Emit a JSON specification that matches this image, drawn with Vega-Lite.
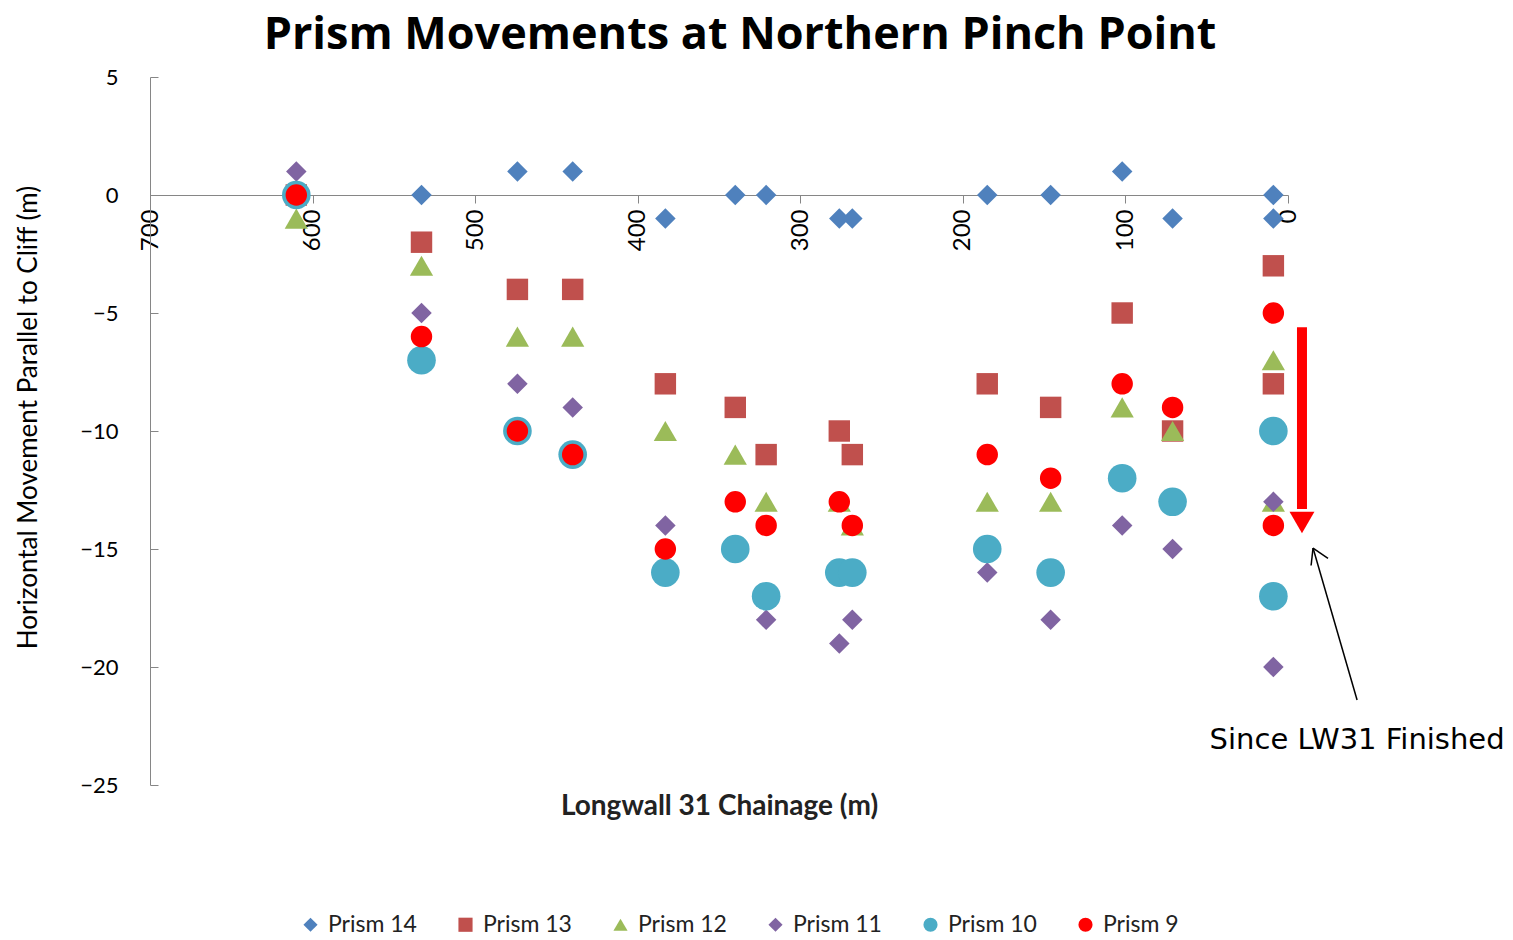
{
  "$schema": "https://vega.github.io/schema/vega-lite/v6.json",
  "autosize": {"type": "none"},
  "padding": {"left": 150, "top": 77, "right": 225, "bottom": 155},
  "width": 1138,
  "height": 708,
  "background": "white",
  "title": {
    "text": "Prism Movements at Northern Pinch Point",
    "font": "Open Sans",
    "fontSize": 45,
    "fontWeight": "bold",
    "color": "#000000",
    "anchor": "middle",
    "offset": 8,
    "dx": 21
  },
  "config": {
    "view": {"stroke": null},
    "font": "Lato",
    "legend": {"symbolSize": 200}
  },
  "layer": [
    {
      "data": {
        "values": [
          {"prism": "Prism 14", "chainage": 610, "movement": 0},
          {"prism": "Prism 14", "chainage": 533, "movement": 0},
          {"prism": "Prism 14", "chainage": 474, "movement": 1},
          {"prism": "Prism 14", "chainage": 440, "movement": 1},
          {"prism": "Prism 14", "chainage": 383, "movement": -1},
          {"prism": "Prism 14", "chainage": 340, "movement": 0},
          {"prism": "Prism 14", "chainage": 321, "movement": 0},
          {"prism": "Prism 14", "chainage": 276, "movement": -1},
          {"prism": "Prism 14", "chainage": 268, "movement": -1},
          {"prism": "Prism 14", "chainage": 185, "movement": 0},
          {"prism": "Prism 14", "chainage": 146, "movement": 0},
          {"prism": "Prism 14", "chainage": 102, "movement": 1},
          {"prism": "Prism 14", "chainage": 71, "movement": -1},
          {"prism": "Prism 14", "chainage": 9, "movement": 0},
          {"prism": "Prism 14", "chainage": 9, "movement": -1},
          {"prism": "Prism 13", "chainage": 610, "movement": 0},
          {"prism": "Prism 13", "chainage": 533, "movement": -2},
          {"prism": "Prism 13", "chainage": 474, "movement": -4},
          {"prism": "Prism 13", "chainage": 440, "movement": -4},
          {"prism": "Prism 13", "chainage": 383, "movement": -8},
          {"prism": "Prism 13", "chainage": 340, "movement": -9},
          {"prism": "Prism 13", "chainage": 321, "movement": -11},
          {"prism": "Prism 13", "chainage": 276, "movement": -10},
          {"prism": "Prism 13", "chainage": 268, "movement": -11},
          {"prism": "Prism 13", "chainage": 185, "movement": -8},
          {"prism": "Prism 13", "chainage": 146, "movement": -9},
          {"prism": "Prism 13", "chainage": 102, "movement": -5},
          {"prism": "Prism 13", "chainage": 71, "movement": -10},
          {"prism": "Prism 13", "chainage": 9, "movement": -3},
          {"prism": "Prism 13", "chainage": 9, "movement": -8},
          {"prism": "Prism 12", "chainage": 610, "movement": -1},
          {"prism": "Prism 12", "chainage": 533, "movement": -3},
          {"prism": "Prism 12", "chainage": 474, "movement": -6},
          {"prism": "Prism 12", "chainage": 440, "movement": -6},
          {"prism": "Prism 12", "chainage": 383, "movement": -10},
          {"prism": "Prism 12", "chainage": 340, "movement": -11},
          {"prism": "Prism 12", "chainage": 321, "movement": -13},
          {"prism": "Prism 12", "chainage": 276, "movement": -13},
          {"prism": "Prism 12", "chainage": 268, "movement": -14},
          {"prism": "Prism 12", "chainage": 185, "movement": -13},
          {"prism": "Prism 12", "chainage": 146, "movement": -13},
          {"prism": "Prism 12", "chainage": 102, "movement": -9},
          {"prism": "Prism 12", "chainage": 71, "movement": -10},
          {"prism": "Prism 12", "chainage": 9, "movement": -7},
          {"prism": "Prism 12", "chainage": 9, "movement": -13},
          {"prism": "Prism 11", "chainage": 610, "movement": 1},
          {"prism": "Prism 11", "chainage": 533, "movement": -5},
          {"prism": "Prism 11", "chainage": 474, "movement": -8},
          {"prism": "Prism 11", "chainage": 440, "movement": -9},
          {"prism": "Prism 11", "chainage": 383, "movement": -14},
          {"prism": "Prism 11", "chainage": 321, "movement": -18},
          {"prism": "Prism 11", "chainage": 276, "movement": -19},
          {"prism": "Prism 11", "chainage": 268, "movement": -18},
          {"prism": "Prism 11", "chainage": 185, "movement": -16},
          {"prism": "Prism 11", "chainage": 146, "movement": -18},
          {"prism": "Prism 11", "chainage": 102, "movement": -14},
          {"prism": "Prism 11", "chainage": 71, "movement": -15},
          {"prism": "Prism 11", "chainage": 9, "movement": -13},
          {"prism": "Prism 11", "chainage": 9, "movement": -20},
          {"prism": "Prism 10", "chainage": 610, "movement": 0},
          {"prism": "Prism 10", "chainage": 533, "movement": -7},
          {"prism": "Prism 10", "chainage": 474, "movement": -10},
          {"prism": "Prism 10", "chainage": 440, "movement": -11},
          {"prism": "Prism 10", "chainage": 383, "movement": -16},
          {"prism": "Prism 10", "chainage": 340, "movement": -15},
          {"prism": "Prism 10", "chainage": 321, "movement": -17},
          {"prism": "Prism 10", "chainage": 276, "movement": -16},
          {"prism": "Prism 10", "chainage": 268, "movement": -16},
          {"prism": "Prism 10", "chainage": 185, "movement": -15},
          {"prism": "Prism 10", "chainage": 146, "movement": -16},
          {"prism": "Prism 10", "chainage": 102, "movement": -12},
          {"prism": "Prism 10", "chainage": 71, "movement": -13},
          {"prism": "Prism 10", "chainage": 9, "movement": -10},
          {"prism": "Prism 10", "chainage": 9, "movement": -17},
          {"prism": "Prism 9", "chainage": 610, "movement": 0},
          {"prism": "Prism 9", "chainage": 533, "movement": -6},
          {"prism": "Prism 9", "chainage": 474, "movement": -10},
          {"prism": "Prism 9", "chainage": 440, "movement": -11},
          {"prism": "Prism 9", "chainage": 383, "movement": -15},
          {"prism": "Prism 9", "chainage": 340, "movement": -13},
          {"prism": "Prism 9", "chainage": 321, "movement": -14},
          {"prism": "Prism 9", "chainage": 276, "movement": -13},
          {"prism": "Prism 9", "chainage": 268, "movement": -14},
          {"prism": "Prism 9", "chainage": 185, "movement": -11},
          {"prism": "Prism 9", "chainage": 146, "movement": -12},
          {"prism": "Prism 9", "chainage": 102, "movement": -8},
          {"prism": "Prism 9", "chainage": 71, "movement": -9},
          {"prism": "Prism 9", "chainage": 9, "movement": -5},
          {"prism": "Prism 9", "chainage": 9, "movement": -14}
        ]
      },
      "mark": {"type": "point", "filled": true, "opacity": 1, "clip": false},
      "encoding": {
        "x": {
          "field": "chainage",
          "type": "quantitative",
          "scale": {"domain": [0, 700], "reverse": true, "nice": false, "zero": false},
          "axis": {
            "title": "Longwall 31 Chainage (m)",
            "titleFont": "Lato",
            "titleFontSize": 28,
            "titleFontWeight": "bold",
            "titleColor": "#222222",
            "titleY": 611,
            "titleBaseline": "middle",
            "values": [0, 100, 200, 300, 400, 500, 600, 700],
            "offset": -590,
            "labelAngle": 270,
            "labelFont": "Lato",
            "labelFontSize": 24,
            "labelColor": "#000000",
            "labelPadding": 6,
            "labelFlush": false,
            "labelOverlap": false,
            "grid": false,
            "domainColor": "#868686",
            "tickColor": "#868686",
            "tickSize": 8
          }
        },
        "y": {
          "field": "movement",
          "type": "quantitative",
          "scale": {"domain": [-25, 5], "nice": false, "zero": false},
          "axis": {
            "title": "Horizontal Movement Parallel to Cliff (m)",
            "titleFont": "Lato",
            "titleFontSize": 26,
            "titleFontWeight": "normal",
            "titleColor": "#000000",
            "titleX": -122,
            "titleY": 340,
            "titleBaseline": "middle",
            "titleAngle": 270,
            "values": [-25, -20, -15, -10, -5, 0, 5],
            "labelFont": "Lato",
            "labelFontSize": 22,
            "labelColor": "#000000",
            "labelPadding": 40,
            "grid": false,
            "domainColor": "#868686",
            "tickColor": "#868686",
            "tickSize": -8
          }
        },
        "color": {
          "field": "prism",
          "type": "nominal",
          "scale": {
            "domain": ["Prism 14", "Prism 13", "Prism 12", "Prism 11", "Prism 10", "Prism 9"],
            "range": ["#4F81BD", "#C0504D", "#9BBB59", "#8064A2", "#4BACC6", "#FF0000"]
          },
          "legend": {
            "title": null,
            "orient": "none",
            "legendX": 149,
            "legendY": 836,
            "direction": "horizontal",
            "columns": 6,
            "gridAlign": "all",
            "columnPadding": 37,
            "symbolSize": 200,
            "labelFont": "Lato",
            "labelFontSize": 23,
            "labelColor": "#222222",
            "labelOffset": 6,
            "symbolStrokeWidth": 0
          }
        },
        "shape": {
          "field": "prism",
          "type": "nominal",
          "scale": {
            "domain": ["Prism 14", "Prism 13", "Prism 12", "Prism 11", "Prism 10", "Prism 9"],
            "range": ["diamond", "square", "triangle-up", "diamond", "circle", "circle"]
          }
        },
        "size": {
          "condition": [
            {"test": "datum.prism === 'Prism 10'", "value": 820},
            {"test": "datum.prism === 'Prism 12'", "value": 540},
            {"test": "datum.prism === 'Prism 13' || datum.prism === 'Prism 9'", "value": 460}
          ],
          "value": 420
        }
      }
    },
    {
      "data": {"values": [{"x": -8.6, "y": -5.6, "x2": -8.6, "y2": -13.3}]},
      "mark": {"type": "rule", "color": "#FF0000", "strokeWidth": 10, "clip": false},
      "encoding": {
        "x": {"field": "x", "type": "quantitative"},
        "y": {"field": "y", "type": "quantitative"},
        "x2": {"field": "x2"},
        "y2": {"field": "y2"}
      }
    },
    {
      "data": {"values": [{"x": -8.6, "y": -13.88}]},
      "mark": {"type": "point", "shape": "triangle-down", "filled": true, "color": "#FF0000", "opacity": 1, "size": 620, "clip": false},
      "encoding": {
        "x": {"field": "x", "type": "quantitative"},
        "y": {"field": "y", "type": "quantitative"}
      }
    },
    {
      "data": {
        "values": [
          {"x": -42.5, "y": -21.4, "x2": -15.4, "y2": -14.96},
          {"x": -14.2, "y": -15.7, "x2": -15.4, "y2": -14.96},
          {"x": -24.6, "y": -15.4, "x2": -15.4, "y2": -14.96}
        ]
      },
      "mark": {"type": "rule", "color": "#000000", "strokeWidth": 1.5, "clip": false},
      "encoding": {
        "x": {"field": "x", "type": "quantitative"},
        "y": {"field": "y", "type": "quantitative"},
        "x2": {"field": "x2"},
        "y2": {"field": "y2"}
      }
    },
    {
      "data": {"values": [{"x": -42.5, "y": -23.1, "label": "Since LW31 Finished"}]},
      "mark": {"type": "text", "font": "DejaVu Sans", "fontSize": 29, "color": "#000000", "align": "center", "baseline": "middle", "clip": false},
      "encoding": {
        "x": {"field": "x", "type": "quantitative"},
        "y": {"field": "y", "type": "quantitative"},
        "text": {"field": "label"}
      }
    }
  ]
}
